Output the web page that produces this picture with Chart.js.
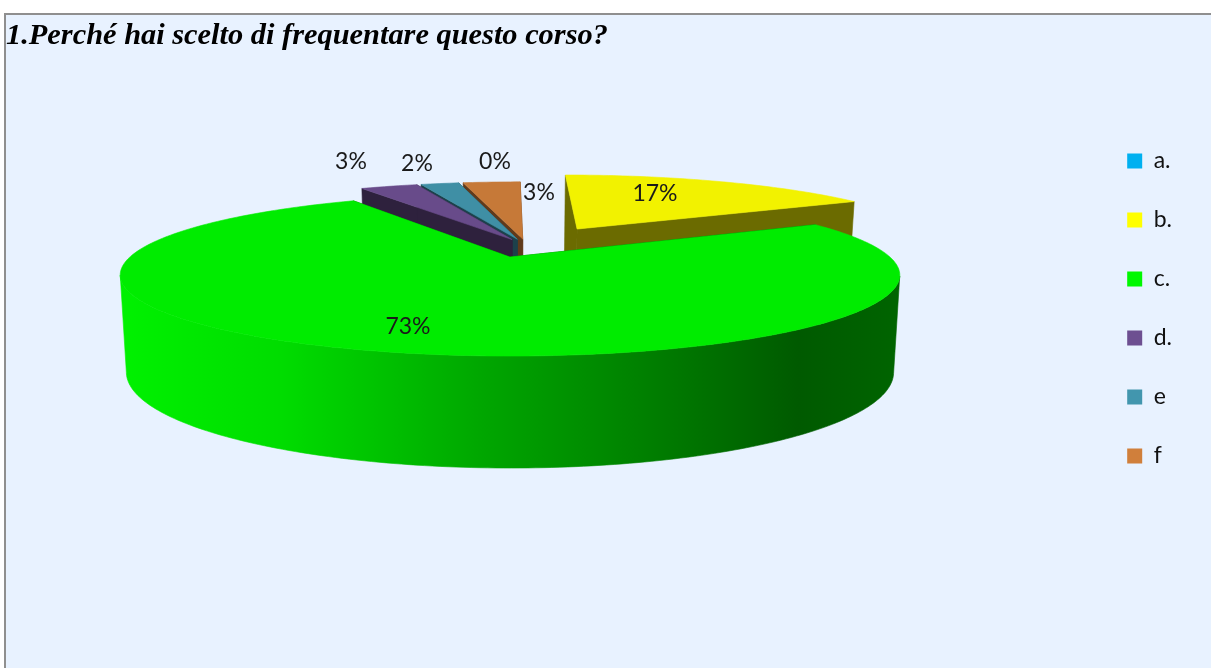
<!DOCTYPE html>
<html lang="it">
<head>
<meta charset="utf-8">
<title>Perché hai scelto di frequentare questo corso?</title>
<script src="https://cdn.jsdelivr.net/npm/chart.js@4"></script>
<style>
html,body{margin:0;padding:0;background:#fff;overflow:hidden;width:1211px;height:668px}
#frame{position:absolute;left:4px;top:13px;width:1207px;height:655px;box-sizing:border-box;
  border-top:2px solid #8f8f8f;border-left:2px solid #8f8f8f;background:#e8f2ff}
canvas{display:block}
</style>
</head>
<body>
<div id="frame"><canvas id="c" width="1205" height="653"></canvas></div>
<script>
// ---- data ----
const chartTitle = "1.Perché hai scelto di frequentare questo corso?";
const categories = ["a.", "b.", "c.", "d.", "e", "f"];
const percentages = [0, 17, 73, 3, 2, 3];
const sliceColors = ["#00b0f0", "#ffff00", "#00f800", "#6d4f91", "#4296ae", "#d07f3b"];

// ---- 3D look ----
const explode = [0, 0.285, 0.158, 0.095, 0.095, 0.095];
const wallShade = [0.4, 0.42, 0.4, 0.42, 0.43, 0.46];
const paintOrder = [0, 1, 5, 4, 3, 2];
const topPlane = {x: 502, y: 242, a: 380, b: 77};
const bottomPlane = {x: 502, y: 336, a: 374, b: 91};
const perspective = 0.222;
const hub = {u: 0.05, v: -0.151};
const labelAt = [[489,147],[649,179],[402,312],[345,147],[411,149],[533,178]];
const green = [[0,'#00f000'],[0.2,'#00dc00'],[0.45,'#00a800'],[0.7,'#007a00'],[0.87,'#005a00'],[1,'#006400']];

function shade(hex, f){
  const n = parseInt(hex.slice(1),16);
  return 'rgb('+[(n>>16)&255,(n>>8)&255,n&255].map(c=>Math.round(c*f)).join(',')+')';
}
function project(plane,u,v){
  const w = 1/(1-perspective*v);
  return [plane.x+plane.a*u*w, plane.y+plane.b*v*w];
}
function poly(ctx,pts,fill){
  ctx.beginPath();
  pts.forEach((p,i)=> i?ctx.lineTo(p[0],p[1]):ctx.moveTo(p[0],p[1]));
  ctx.closePath();
  ctx.fillStyle=fill; ctx.strokeStyle=fill; ctx.lineWidth=0.6;
  ctx.fill(); ctx.stroke();
}

const pie3d = {
  id:'pie3d',
  beforeDatasetsDraw(chart){
    const ctx = chart.ctx, meta = chart.getDatasetMeta(0);
    ctx.save();
    paintOrder.forEach(i=>{
      const el = meta.data[i];
      const span = el.endAngle-el.startAngle;
      if(span<=0) return;
      const mid = (el.startAngle+el.endAngle)/2;
      const cu = hub.u+Math.cos(mid)*explode[i], cv = hub.v+Math.sin(mid)*explode[i];
      const rim = [];
      const steps = Math.max(4,Math.ceil(span*60));
      for(let s=0;s<=steps;s++){
        const t = el.startAngle+span*s/steps;
        rim.push([cu+Math.cos(t),cv+Math.sin(t)]);
      }
      const topRim = rim.map(q=>project(topPlane,q[0],q[1]));
      const topHub = project(topPlane,cu,cv), botHub = project(bottomPlane,cu,cv);
      const bottomOf = q=>project(bottomPlane,q[0],q[1]);
      const wall = shade(sliceColors[i],wallShade[i]);
      let outer = wall;
      if(i===2){
        outer = ctx.createLinearGradient(topPlane.x-378,0,topPlane.x+390,0);
        green.forEach(g=>outer.addColorStop(g[0],g[1]));
      }
      poly(ctx,[topHub,topRim[0],bottomOf(rim[0]),botHub],wall);
      poly(ctx,[topHub,topRim[steps],bottomOf(rim[steps]),botHub],wall);
      // only the part of the rim that faces the viewer is visible
      const front = rim.filter(q=>q[1]>=perspective);
      if(front.length>1){
        const upper = front.map(q=>project(topPlane,q[0],q[1]));
        const lower = front.map(bottomOf).reverse();
        poly(ctx,upper.concat(lower),outer);
      }
      poly(ctx,[topHub].concat(topRim),shade(sliceColors[i],0.95));
    });
    ctx.fillStyle='#1a1a1a';
    ctx.font='23px Lato';
    ctx.textAlign='center';
    ctx.textBaseline='middle';
    percentages.forEach((p,i)=>ctx.fillText(p+'%',labelAt[i][0],labelAt[i][1]));
    ctx.restore();
    return false;
  }
};

new Chart(document.getElementById('c'),{
  type:'pie',
  data:{labels:categories,datasets:[{data:percentages,backgroundColor:sliceColors,borderWidth:0}]},
  options:{
    responsive:false,animation:false,
    layout:{padding:{right:29,bottom:66}},
    plugins:{
      tooltip:{enabled:false},
      title:{display:true,text:chartTitle,align:'start',color:'#000',
        font:{family:'"Liberation Serif"',size:30.4,style:'italic',weight:'bold'},
        padding:{top:3,bottom:8}},
      legend:{position:'right',align:'center',
        labels:{boxWidth:15,boxHeight:15,padding:36,color:'#111',font:{family:'Lato',size:23}}}
    }
  },
  plugins:[pie3d]
});
</script>
</body>
</html>
